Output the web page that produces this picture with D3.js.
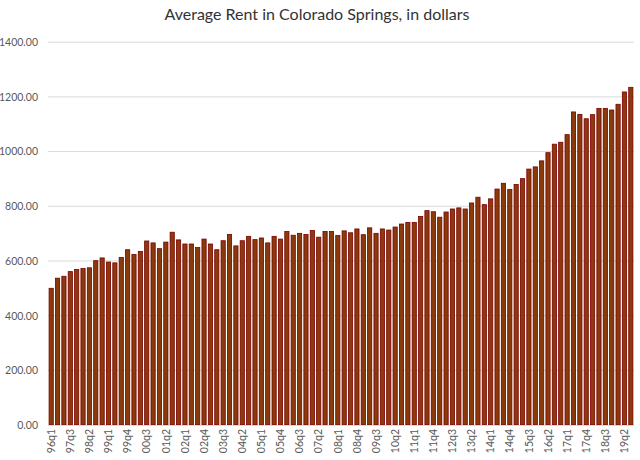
<!DOCTYPE html>
<html><head><meta charset="utf-8">
<script src="https://cdn.jsdelivr.net/npm/d3@7/dist/d3.min.js"></script>
<style>body{margin:0;background:#fff}svg{display:block}</style>
</head><body>
<svg id="chart" width="640" height="460"></svg>
<script>
const categories = ["96q1","96q3","97q1","97q3","97q4",
"98q1","98q2","98q3","98q4","99q1","99q2","99q3","99q4",
"00q1","00q2","00q3","00q4","01q1","01q2","01q3","01q4",
"02q1","02q2","02q3","02q4","03q1","03q2","03q3","03q4",
"04q1","04q2","04q3","04q4","05q1","05q2","05q3","05q4",
"06q1","06q2","06q3","06q4","07q1","07q2","07q3","07q4",
"08q1","08q2","08q3","08q4","09q1","09q2","09q3","09q4",
"10q1","10q2","10q3","10q4","11q1","11q2","11q3","11q4",
"12q1","12q2","12q3","12q4","13q1","13q2","13q3","13q4",
"14q1","14q2","14q3","14q4","15q1","15q2","15q3","15q4",
"16q1","16q2","16q3","16q4","17q1","17q2","17q3","17q4",
"18q1","18q2","18q3","18q4","19q1","19q2","19q3"];
const rent = [500,537,544,561,569,572,575,601,611,596,593,613,641,624,635,673,666,645,669,705,
677,662,662,649,680,662,641,674,697,655,674,690,678,684,666,690,680,708,694,701,
697,711,687,708,708,693,710,703,717,696,721,701,717,713,724,735,741,741,763,784,
780,760,779,790,794,790,812,833,806,827,863,884,861,880,901,936,944,966,996,1027,
1034,1062,1145,1136,1120,1135,1158,1158,1152,1173,1218,1235];
const yTicks = [0,200,400,600,800,1000,1200,1400];
const xTickLabels = categories.filter((c,i)=>i%3===0);
const title = "Average Rent in Colorado Springs, in dollars";

const svg = d3.select("#chart");
const x = d3.scaleBand().domain(categories).range([48,634]).paddingInner(0.34).paddingOuter(0.17);
const y = d3.scaleLinear().domain([0,1400]).range([425,42.2]);

// gridlines
svg.append("g").selectAll("line").data(yTicks.filter(t=>t>0)).join("line")
  .attr("x1",48).attr("x2",634).attr("y1",d=>y(d)).attr("y2",d=>y(d))
  .attr("stroke","#d9d9d9").attr("stroke-width",1);

// y axis labels
const yAxis = d3.axisLeft(y).tickValues(yTicks).tickFormat(d3.format(".2f")).tickSize(0).tickPadding(10);
const gy = svg.append("g").attr("transform","translate(48,0)").call(yAxis);
gy.select(".domain").remove();
gy.selectAll("text").attr("font-family","Lato, 'Open Sans', sans-serif").attr("font-size","10.5px").attr("fill","#595959");

// bars
svg.append("g").selectAll("rect").data(rent).join("rect")
  .attr("x",(d,i)=>x(categories[i])).attr("width",x.bandwidth())
  .attr("y",d=>y(d)).attr("height",d=>y(0)-y(d))
  .attr("fill","#8a3a0b").attr("stroke","#7a0000").attr("stroke-width",0.8);

// x axis
const xAxis = d3.axisBottom(x).tickValues(xTickLabels).tickSize(0).tickPadding(0);
const gx = svg.append("g").attr("transform","translate(0,425)").call(xAxis);
gx.select(".domain").attr("stroke","#d9d9d9").attr("d","M48,0.5H634");
gx.selectAll("text").attr("font-family","Lato, 'Open Sans', sans-serif").attr("font-size","10.5px").attr("fill","#595959")
  .attr("text-anchor","end").attr("dy","0.35em").attr("dx","-4px").attr("y",0)
  .attr("transform","rotate(-90)");

// title
svg.append("text").attr("x",317).attr("y",20).attr("text-anchor","middle")
  .attr("font-family","Lato, 'Open Sans', sans-serif").attr("font-size","16px").attr("fill","#333")
  .text(title);
</script>
</body></html>
